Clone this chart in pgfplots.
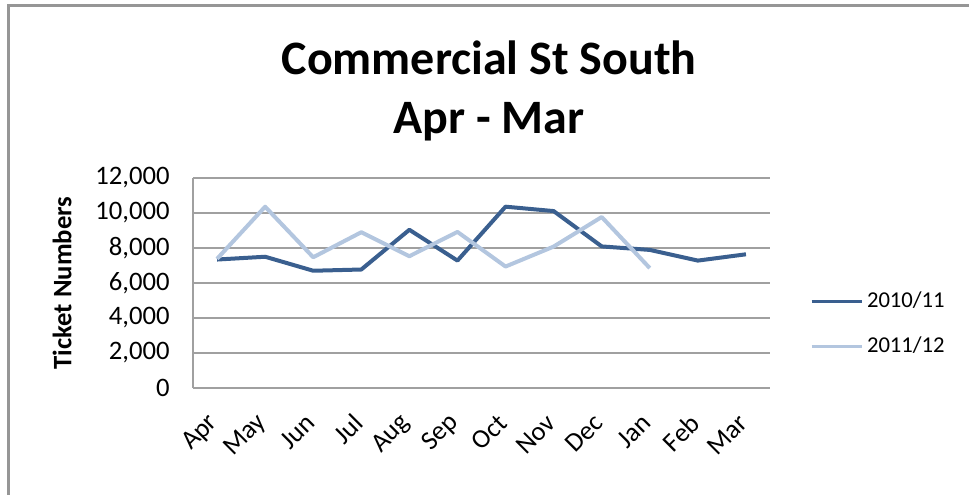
\documentclass[border=0pt]{standalone}
\usepackage{pgfplots}
\pgfplotsset{compat=1.18}
\usepackage{fontspec}
\setmainfont{Carlito}
\definecolor{darkser}{HTML}{3A5F8F}
\definecolor{lightser}{HTML}{B3C6DF}
\definecolor{gridgray}{RGB}{160,160,160}
\definecolor{framegray}{RGB}{150,150,150}
\begin{document}
\begin{tikzpicture}
\path[use as bounding box] (0,0) rectangle (363.375pt,185.625pt);
% frame (left and top edges)
\draw[framegray, line width=1.1pt] (3.2pt,0pt) -- (3.2pt,183.5pt) -- (363.375pt,183.5pt);
% title
\node[anchor=base, font=\bfseries\fontsize{18}{20}\selectfont] at (183.4pt,157.5pt) {Commercial St South};
\node[anchor=base, font=\bfseries\fontsize{18}{20}\selectfont] at (183.4pt,135.7pt) {Apr - Mar};
\begin{axis}[
  at={(72.375pt,40.125pt)}, anchor=south west,
  scale only axis, width=216.375pt, height=78.75pt,
  xmin=-0.5, xmax=11.5, ymin=0, ymax=12000,
  axis lines*=left, axis line style={gridgray, line width=0.55pt, -},
  ymajorgrids, grid style={gridgray, line width=0.55pt},
  xtick={0,...,11},
  xticklabels={Apr,May,Jun,Jul,Aug,Sep,Oct,Nov,Dec,Jan,Feb,Mar},
  ytick={0,2000,4000,6000,8000,10000,12000},
  major tick length=0pt,
  /pgf/number format/assume math mode=true,
  /pgf/number format/1000 sep={,},
  /pgf/number format/fixed,
  scaled y ticks=false,
  tick label style={font=\fontsize{10}{12}\selectfont},
  yticklabel style={anchor=east, inner sep=0pt, xshift=-8.6pt},
  xticklabel style={xshift=-1pt, yshift=-11.5pt, rotate=45, anchor=east, inner sep=0pt},
  ylabel={Ticket Numbers},
  ylabel style={at={(axis description cs:-0.227,0.5)}, anchor=center, font=\bfseries\fontsize{10}{12}\selectfont},
  legend style={draw=none, fill=none, at={(1.069,0.305)}, anchor=west, inner sep=0pt,
    row sep=6.5pt, font=\fontsize{8.5}{10}\selectfont, nodes={inner sep=1.5pt}},
  legend cell align=left,
  legend image code/.code={\draw[#1, line width=1pt] (0pt,0pt) -- (18.75pt,0pt);},
]
\addplot[darkser, line width=1.5pt, line join=round] coordinates {
(0,7340) (1,7500) (2,6700) (3,6770) (4,9040) (5,7280) (6,10360) (7,10110) (8,8090) (9,7890) (10,7280) (11,7640)};
\addlegendentry{2010/11}
\addplot[lightser, line width=1.5pt, line join=round] coordinates {
(0,7380) (1,10360) (2,7470) (3,8900) (4,7530) (5,8920) (6,6940) (7,8080) (8,9770) (9,6850)};
\addlegendentry{2011/12}
\end{axis}
\end{tikzpicture}
\end{document}
